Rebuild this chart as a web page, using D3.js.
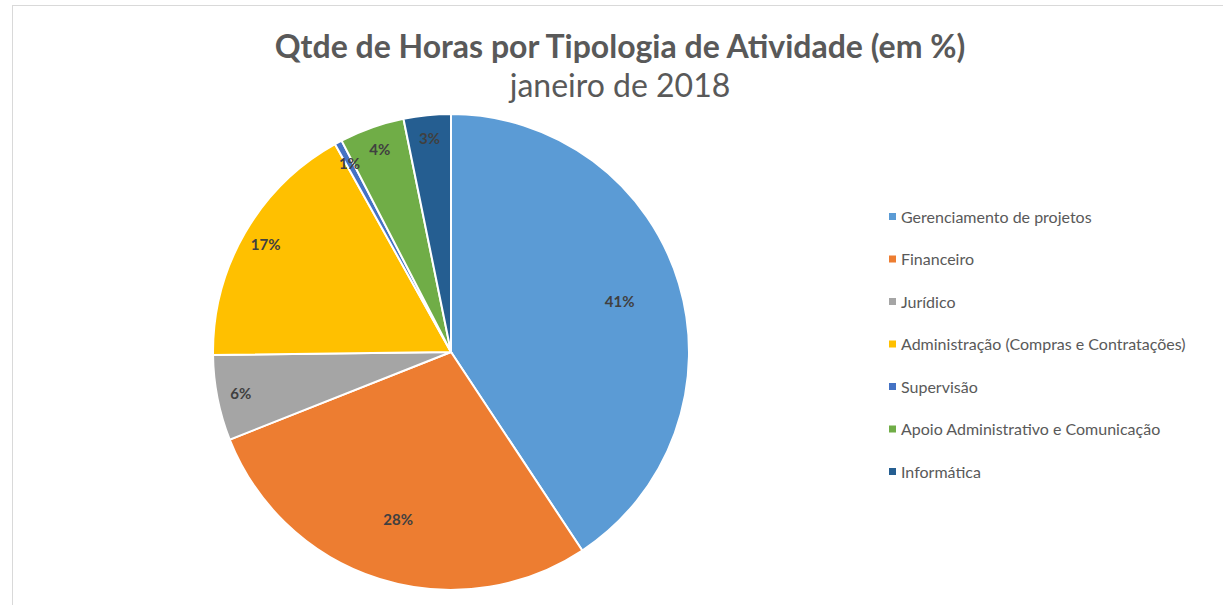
<!DOCTYPE html>
<html>
<head>
<meta charset="utf-8">
<script src="https://cdn.jsdelivr.net/npm/d3@7"></script>
<style>
  body { margin: 0; background: #ffffff; }
  text { font-family: Lato, "Open Sans", sans-serif; }
</style>
</head>
<body>
<div id="chart"></div>
<script>
// Data (percent of hours)
const categories = [
    "Gerenciamento de projetos",
    "Financeiro",
    "Jurídico",
    "Administração (Compras e Contratações)",
    "Supervisão",
    "Apoio Administrativo e Comunicação",
    "Informática"
];
const values = [40.7, 28.3, 5.8, 17.1, 0.5, 4.4, 3.2];
const labels = ["41%", "28%", "6%", "17%", "1%", "4%", "3%"];
const colors = ["#5B9BD5", "#ED7D31", "#A5A5A5", "#FFC000", "#4472C4", "#70AD47", "#255E91"];

const width = 1223;
const height = 605;
const cx = 451, cy = 352;
const radius = 238;

const svg = d3.select("#chart")
    .append("svg")
    .attr("width", width)
    .attr("height", height);

// chart frame
svg.append("rect")
    .attr("x", 12.5)
    .attr("y", 5.5)
    .attr("width", width)
    .attr("height", height)
    .attr("fill", "#fff")
    .attr("stroke", "#d9d9d9")
    .attr("stroke-width", 1);

// Titles
svg.append("text")
    .attr("x", 620)
    .attr("y", 58)
    .attr("text-anchor", "middle")
    .attr("fill", "#595959")
    .style("font-size", "32px")
    .style("font-weight", "bold")
    .text("Qtde de Horas por Tipologia de Atividade (em %)");

svg.append("text")
    .attr("x", 620)
    .attr("y", 97)
    .attr("text-anchor", "middle")
    .attr("fill", "#595959")
    .style("font-size", "32px")
    .text("janeiro de 2018");

const table = categories.map((c, i) => ({ name: c, value: values[i], label: labels[i], color: colors[i] }));

const pie = d3.pie().sort(null).value(d => d.value);
const arc = d3.arc().innerRadius(0).outerRadius(radius);
const arcs = pie(table);

const g = svg.append("g")
    .attr("transform", `translate(${cx}, ${cy})`);

g.selectAll("path")
    .data(arcs)
    .enter().append("path")
    .attr("d", arc)
    .attr("fill", d => d.data.color)
    .attr("stroke", "#fff")
    .attr("stroke-width", 2);

// labels: big slices a bit further in, small ones near the rim
g.selectAll("text.lbl")
    .data(arcs)
    .enter().append("text")
    .attr("class", "lbl")
    .attr("transform", d => {
        const share = (d.endAngle - d.startAngle) / (2 * Math.PI);
        const r = share > 0.2 ? radius * 0.74 : radius * 0.9;
        const c = d3.arc().innerRadius(r).outerRadius(r).centroid(d);
        return `translate(${c[0]}, ${c[1]})`;
    })
    .attr("text-anchor", "middle")
    .attr("dy", "0.35em")
    .attr("fill", "#404040")
    .style("font-size", "15px")
    .style("font-weight", "bold")
    .text(d => d.data.label);

// Legend
const legendY = d3.scalePoint()
    .domain(categories)
    .range([217, 472]);

const legend = svg.append("g");
const items = legend.selectAll("g")
    .data(table)
    .enter().append("g")
    .attr("transform", d => `translate(889, ${legendY(d.name)})`);

items.append("rect")
    .attr("x", 0)
    .attr("y", -4)
    .attr("width", 7)
    .attr("height", 7)
    .attr("fill", d => d.color);

items.append("text")
    .attr("x", 12)
    .attr("dy", "0.35em")
    .attr("fill", "#595959")
    .style("font-size", "16px")
    .text(d => d.name);
</script>
</body>
</html>
